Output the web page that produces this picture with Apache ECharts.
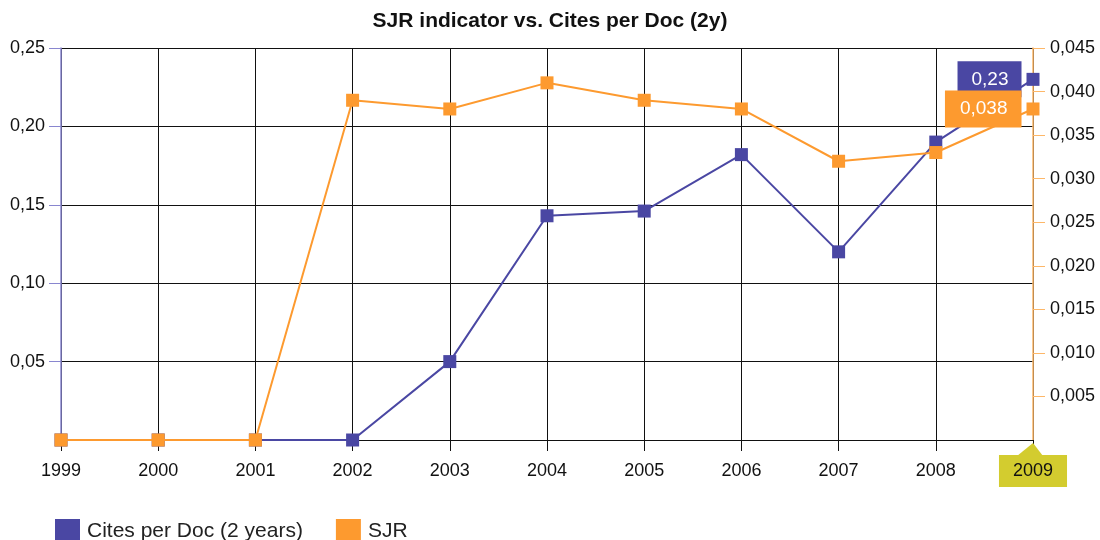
<!DOCTYPE html>
<html>
<head>
<meta charset="utf-8">
<style>
html,body{margin:0;padding:0;background:#fff;}
#chart{width:1100px;height:540px;}
</style>
<script src="https://cdn.jsdelivr.net/npm/echarts@6/dist/echarts.min.js"></script>
</head>
<body>
<div id="chart"></div>
<script>
const years = ['1999','2000','2001','2002','2003','2004','2005','2006','2007','2008','2009'];
const citesPerDoc = [0, 0, 0, 0, 0.05, 0.143, 0.146, 0.182, 0.12, 0.19, 0.23];
const sjr = [0, 0, 0, 0.039, 0.038, 0.041, 0.039, 0.038, 0.032, 0.033, 0.038];
const leftTickValues = [0.05, 0.10, 0.15, 0.20, 0.25];
const rightTickValues = [0.005, 0.010, 0.015, 0.020, 0.025, 0.030, 0.035, 0.040, 0.045];
const leftTicks = { min: 0, max: 0.25, interval: 0.05 };
const rightTicks = { min: 0, max: 0.045, interval: 0.005 };

const BLUE = '#4a47a3';
const ORANGE = '#fd9a2f';
const HL = '#d3cc2f';
const FONT = '"Liberation Sans", Arial, Helvetica, sans-serif';

const chart = echarts.init(document.getElementById('chart'));

function lastLabel(color, dec, pad) {
  return {
    show: true,
    position: 'left',
    distance: 5,
    backgroundColor: color,
    color: '#fff',
    fontSize: 19,
    fontFamily: FONT,
    padding: pad,
    formatter: p => {
      let s = p.value.toFixed(dec);
      if (dec === 2) s = String(+s);
      return s.replace('.', ',');
    }
  };
}

const citesData = citesPerDoc.map((v, i) => i === citesPerDoc.length - 1 ? { value: v, label: lastLabel(BLUE, 2, [9, 13, 8, 14]) } : v);
const sjrData = sjr.map((v, i) => i === sjr.length - 1 ? { value: v, label: lastLabel(ORANGE, 3, [9, 14, 9, 15]) } : v);

const option = {
  animation: false,
  backgroundColor: '#fff',
  textStyle: { fontFamily: FONT },
  title: {
    text: 'SJR indicator vs. Cites per Doc (2y)',
    left: 'center',
    top: 6,
    textStyle: { fontSize: 21, fontWeight: 'bold', color: '#111', fontFamily: FONT }
  },
  legend: {
    left: 50,
    top: 514,
    icon: 'rect',
    itemWidth: 25,
    itemHeight: 24,
    itemGap: 33,
    textStyle: { fontSize: 21, color: '#222', fontFamily: FONT, padding: [0, 0, 0, 2] },
    data: ['Cites per Doc (2 years)', 'SJR']
  },
  grid: { left: 61, right: 67, top: 48, bottom: 100, containLabel: false },
  xAxis: {
    type: 'category',
    data: years,
    boundaryGap: false,
    axisLine: { show: true, lineStyle: { color: '#111', width: 1 } },
    axisTick: { show: true, length: 11, lineStyle: { color: '#111' } },
    splitLine: { show: true, lineStyle: { color: '#111', width: 1 } },
    axisLabel: {
      margin: 15,
      interval: 0,
      formatter: v => v === '2009' ? '{hl|' + v + '}' : '{n|' + v + '}',
      rich: {
        n: { fontSize: 18, color: '#111', fontFamily: FONT, padding: [7, 14, 7, 14] },
        hl: { fontSize: 18, color: '#111', fontFamily: FONT, padding: [7, 14, 7, 14], backgroundColor: HL }
      }
    }
  },
  yAxis: [
    {
      type: 'value',
      position: 'left',
      min: leftTicks.min, max: leftTicks.max, interval: leftTicks.interval,
      axisLine: { show: true, lineStyle: { color: '#8986cf', width: 1.5 } },
      axisTick: { show: true, length: 12, customValues: leftTickValues, lineStyle: { color: '#8986cf' } },
      splitLine: { show: true, lineStyle: { color: '#111', width: 1 } },
      axisLabel: {
        margin: 16,
        customValues: leftTickValues,
        fontSize: 18, color: '#111', fontFamily: FONT,
        formatter: v => v === 0 ? '' : v.toFixed(2).replace('.', ',')
      }
    },
    {
      type: 'value',
      position: 'right',
      min: rightTicks.min, max: rightTicks.max, interval: rightTicks.interval,
      axisLine: { show: true, lineStyle: { color: '#fdb768', width: 1.5 } },
      axisTick: { show: true, length: 12, customValues: rightTickValues, lineStyle: { color: '#fdb768' } },
      splitLine: { show: false },
      axisLabel: {
        margin: 17,
        customValues: rightTickValues,
        fontSize: 18, color: '#111', fontFamily: FONT,
        formatter: v => v === 0 ? '' : v.toFixed(3).replace('.', ',')
      }
    }
  ],
  series: [
    {
      name: 'Cites per Doc (2 years)',
      type: 'line',
      yAxisIndex: 0,
      data: citesData,
      symbol: 'rect',
      symbolSize: 13,
      showAllSymbol: true,
      color: BLUE,
      lineStyle: { width: 2, color: BLUE },
      itemStyle: { color: BLUE },
      z: 3
    },
    {
      name: 'SJR',
      type: 'line',
      yAxisIndex: 1,
      data: sjrData,
      symbol: 'rect',
      symbolSize: 13,
      showAllSymbol: true,
      color: ORANGE,
      lineStyle: { width: 2, color: ORANGE },
      itemStyle: { color: ORANGE },
      z: 4
    }
  ]
};

chart.setOption(option);

// decorative pointer triangle for highlighted axis label, placed via the axis scale
const last = years[years.length - 1];
const p = chart.convertToPixel({ xAxisIndex: 0, yAxisIndex: 0 }, [last, 0]);
chart.setOption({
  graphic: [{
    type: 'polygon',
    z: 100,
    shape: { points: [[p[0], p[1] + 3], [p[0] - 16, p[1] + 16], [p[0] + 10, p[1] + 16]] },
    style: { fill: HL }
  }]
});
</script>
</body>
</html>
